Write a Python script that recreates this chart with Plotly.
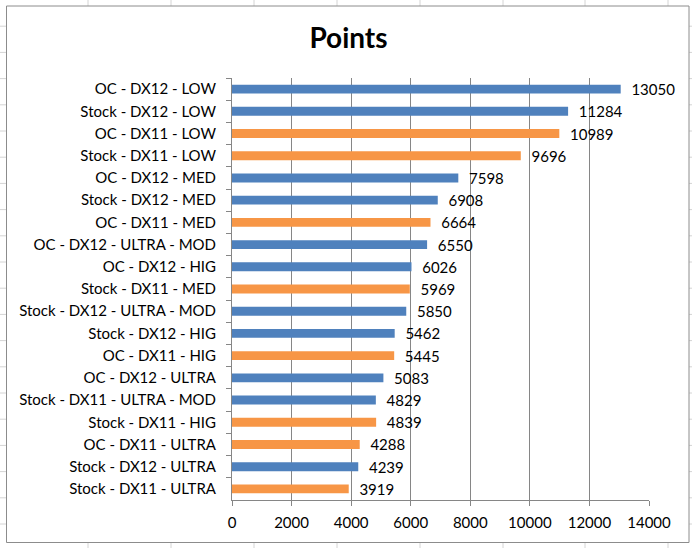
import plotly.graph_objects as go

categories = [
    "OC - DX12 - LOW", "Stock - DX12 - LOW", "OC - DX11 - LOW", "Stock - DX11 - LOW",
    "OC - DX12 - MED", "Stock - DX12 - MED", "OC - DX11 - MED", "OC - DX12 - ULTRA - MOD",
    "OC - DX12 - HIG", "Stock - DX11 - MED", "Stock - DX12 - ULTRA - MOD", "Stock - DX12 - HIG",
    "OC - DX11 - HIG", "OC - DX12 - ULTRA", "Stock - DX11 - ULTRA - MOD", "Stock - DX11 - HIG",
    "OC - DX11 - ULTRA", "Stock - DX12 - ULTRA", "Stock - DX11 - ULTRA",
]
points = [13050, 11284, 10989, 9696, 7598, 6908, 6664, 6550, 6026, 5969,
          5850, 5462, 5445, 5083, 4829, 4839, 4288, 4239, 3919]
api = ["DX12", "DX12", "DX11", "DX11", "DX12", "DX12", "DX11", "DX12", "DX12", "DX11",
       "DX12", "DX12", "DX11", "DX12", "DX12", "DX11", "DX11", "DX12", "DX11"]
x_ticks = [0, 2000, 4000, 6000, 8000, 10000, 12000, 14000]

color_map = {"DX12": "#4F81BD", "DX11": "#F79646"}
colors = [color_map[a] for a in api]

W, H = 692, 548
L, R, T, B = 232, 649, 78, 500  # plot area in pixels

def px(x):
    return (x - L) / (R - L)

def py(y):
    return (B - y) / (B - T)

FONT = "Lato, Calibri, Carlito, sans-serif"

fig = go.Figure()
fig.add_trace(go.Bar(
    y=categories, x=points, orientation="h",
    marker=dict(color=colors, line=dict(width=0)),
    text=["  " + str(v) for v in points], textposition="outside",
    textfont=dict(family=FONT, size=15, color="#000000"),
    cliponaxis=False, constraintext="none", hoverinfo="x+y",
))

shapes = []
# Excel sheet grid behind chart
col_lines = [88, 171, 254, 337, 420, 503, 585, 668]
for cx in col_lines:
    shapes.append(dict(type="line", xref="paper", yref="paper", layer="below",
                       x0=px(cx), x1=px(cx), y0=py(0), y1=py(H),
                       line=dict(color="#D4D4D4", width=1)))
k = 1
while 26.2 * k < H:
    yy = 26.2 * k
    shapes.append(dict(type="line", xref="paper", yref="paper", layer="below",
                       x0=px(0), x1=px(W), y0=py(yy), y1=py(yy),
                       line=dict(color="#D4D4D4", width=1)))
    k += 1
# chart area
shapes.append(dict(type="rect", xref="paper", yref="paper", layer="below",
                   x0=px(6.5), x1=px(689), y0=py(6), y1=py(542.5),
                   fillcolor="white", line=dict(color="#8C8C8C", width=1)))

fig.update_layout(
    width=W, height=H,
    margin=dict(l=L, r=W - R, t=T, b=H - B, autoexpand=False),
    paper_bgcolor="white", plot_bgcolor="rgba(0,0,0,0)",
    bargap=0.6, showlegend=False,
    title=dict(text="<b>Points</b>", x=348.5 / W, xref="container", xanchor="center",
               y=1 - 38.5 / H, yref="container", yanchor="middle",
               font=dict(family=FONT, size=28, color="#000000")),
    shapes=shapes,
    xaxis=dict(range=[0, 14000], tickvals=x_ticks, ticktext=[str(t) for t in x_ticks],
               showgrid=True, gridcolor="#868686", gridwidth=1,
               showline=True, linecolor="#868686", linewidth=1,
               ticks="outside", ticklen=5, tickcolor="#868686", ticklabelstandoff=4,
               zeroline=False, tickfont=dict(family=FONT, size=15, color="#000000")),
    yaxis=dict(autorange="reversed", type="category", showgrid=False,
               showline=True, linecolor="#868686", linewidth=1,
               ticks="outside", ticklen=5, tickcolor="#868686", tickson="boundaries",
               ticklabelstandoff=12,
               tickfont=dict(family=FONT, size=15, color="#000000")),
)

fig.write_html("out.html", config={"displayModeBar": False},
               post_script="document.body.style.margin='0';")
